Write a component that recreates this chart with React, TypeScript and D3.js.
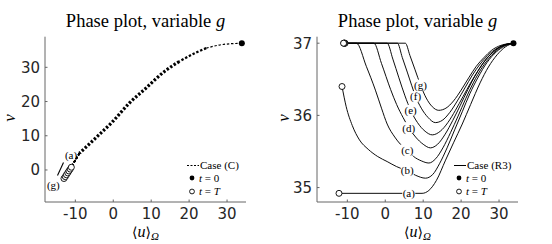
import React from 'react';
import * as d3 from 'd3';

const W = 552;
const H = 244;

const xTicks = [-10, 0, 10, 20, 30];
const leftYTicks = [0, 10, 20, 30];
const rightYTicks = [35, 36, 37];
const caseNames = ['(a)', '(b)', '(c)', '(d)', '(e)', '(f)', '(g)'];

// Left panel: Case (C) — shared trajectory from t=0 and end points at t=T
const leftSharedU = [33.9, 31, 27.9, 24.5, 21.8, 17.4, 13.5, 8.6, 4.2, -0.2, -4.6, -8.9];
const leftSharedV = [37.0, 36.9, 36.5, 35.6, 34.3, 31.7, 28.8, 23.9, 19.5, 14.1, 9.4, 4.9];
const leftEndU = [-11.05, -11.35, -11.7, -12.0, -12.35, -12.65, -13.0];
const leftEndV = [0.8, 0.25, -0.3, -0.85, -1.4, -1.95, -2.5];

// Right panel: Case (R3) trajectories (u, v), from t=T (left) to t=0 (right)
const caseA: [number, number][] = [
  [-12.2, 34.92], [9.7, 34.92], [11.5, 34.96], [13.5, 35.1], [15.9, 35.38], [18, 35.62],
  [20.3, 35.88], [22.5, 36.15], [25, 36.45], [27.2, 36.67], [29.5, 36.84], [31.7, 36.95], [33.8, 37],
];
const caseB: [number, number][] = [
  [-11.4, 36.4], [-10.3, 36.12], [-8.7, 35.86], [-6.8, 35.66], [-4.5, 35.53], [-2, 35.43],
  [0.5, 35.36], [3, 35.29], [5.8, 35.23], [8, 35.17], [10.6, 35.13], [12.5, 35.18], [14.3, 35.33],
  [16.3, 35.55], [18.3, 35.8], [20.3, 36.05], [22.3, 36.3], [24.5, 36.53], [26.8, 36.73],
  [29.3, 36.88], [31.5, 36.96], [33.8, 37],
];
const caseC: [number, number][] = [
  [-11.0, 37], [-7.6, 37], [-5, 36.68], [-2.6, 36.35], [-1, 36.1], [0.5, 35.88], [2.5, 35.7],
  [4, 35.6], [5.8, 35.52], [7.5, 35.43], [9.5, 35.37], [11.5, 35.34], [13.3, 35.4], [15.2, 35.55],
  [17.2, 35.76], [19.2, 35.99], [21.2, 36.23], [23.3, 36.46], [25.5, 36.66], [28, 36.83],
  [30.8, 36.95], [33.8, 37],
];
const caseD: [number, number][] = [
  [-10.9, 37], [-3.0, 37], [-1, 36.72], [1.4, 36.36], [3, 36.15], [4.7, 35.97], [6.2, 35.83],
  [8, 35.7], [10, 35.6], [11.9, 35.55], [13.8, 35.6], [15.8, 35.74], [17.8, 35.93], [19.8, 36.14],
  [21.8, 36.36], [23.8, 36.56], [26, 36.74], [28.5, 36.88], [31, 36.97], [33.8, 37],
];
const caseE: [number, number][] = [
  [-10.8, 37], [0.5, 37], [2, 36.78], [3.6, 36.52], [5.2, 36.27], [6.7, 36.07], [8.5, 35.9],
  [10.5, 35.78], [12.4, 35.73], [14.5, 35.78], [16.5, 35.9], [18.5, 36.07], [20.5, 36.26],
  [22.5, 36.45], [24.5, 36.62], [26.5, 36.77], [29, 36.9], [31.3, 36.97], [33.8, 37],
];
const caseF: [number, number][] = [
  [-10.7, 37], [3.2, 37], [4.5, 36.8], [5.8, 36.6], [7, 36.41], [8, 36.26], [9.5, 36.1],
  [11.3, 35.97], [13.2, 35.9], [15, 35.93], [17, 36.04], [19, 36.2], [21, 36.38], [23, 36.56],
  [25, 36.71], [27, 36.83], [29.5, 36.93], [31.6, 36.98], [33.8, 37],
];
const caseG: [number, number][] = [
  [-10.6, 37], [5.3, 37], [6.5, 36.83], [7.8, 36.64], [9.3, 36.42], [10.8, 36.24], [12.4, 36.12],
  [14.1, 36.07], [16, 36.1], [18, 36.2], [20, 36.35], [22, 36.52], [24, 36.68], [26, 36.8],
  [28, 36.9], [30.5, 36.97], [33.8, 37],
];
const rightCases = [caseA, caseB, caseC, caseD, caseE, caseF, caseG];
const rightLabelU = [6.2, 5.8, 5.8, 6.2, 6.7, 8.0, 9.3];
const rightLabelV = [34.92, 35.24, 35.52, 35.83, 36.07, 36.26, 36.42];

const SERIF = '"Liberation Serif", "DejaVu Serif", serif';
const SANS = '"DejaVu Sans", sans-serif';
const AXC = '#262626';

const plotTop = 36.7;
const plotBottom = 202;

function Axes({ x, y, yTicks, labelX }: { x: any; y: any; yTicks: number[]; labelX: number }) {
  const [x0, x1] = x.range();
  const tl = 2.5;
  return (
    <g>
      <line x1={x0} y1={plotTop} x2={x0} y2={plotBottom} stroke="#666" strokeWidth={1} />
      <line x1={x0} y1={plotBottom} x2={x1} y2={plotBottom} stroke="#666" strokeWidth={1} />
      {xTicks.map((t) => (
        <g key={'x' + t}>
          <line x1={x(t)} x2={x(t)} y1={plotBottom} y2={plotBottom - tl} stroke="#666" />
          <text x={x(t)} y={218.5} textAnchor="middle" fontFamily={SANS} fontSize={15} fill={AXC}>
            {t < 0 ? '-' + Math.abs(t) : String(t)}
          </text>
        </g>
      ))}
      {yTicks.map((t) => (
        <g key={'y' + t}>
          <line x1={x0} x2={x0 + tl} y1={y(t)} y2={y(t)} stroke="#666" />
          <text x={x0 - 5} y={y(t)} dy="0.36em" textAnchor="end" fontFamily={SANS} fontSize={15} fill={AXC}>
            {String(t)}
          </text>
        </g>
      ))}
      <text x={(x0 + x1) / 2} y={26.5} textAnchor="middle" fontFamily={SERIF} fontSize={18.5} fill="#000">
        Phase plot, variable <tspan fontStyle="italic">g</tspan>
      </text>
      <text
        transform={`translate(${labelX},${118}) rotate(-90)`}
        textAnchor="middle"
        fontFamily={SERIF}
        fontStyle="italic"
        fontSize={17}
        fill="#000"
      >
        v
      </text>
      <text x={(x0 + x1) / 2} y={237} textAnchor="middle" fontFamily={SERIF} fontSize={16} fill="#000">
        <tspan fontFamily='"DejaVu Serif", serif' fontSize={14}>⟨</tspan>
        <tspan fontStyle="italic">u</tspan>
        <tspan fontFamily='"DejaVu Serif", serif' fontSize={14}>⟩</tspan>
        <tspan fontSize={11} dy={3} fontStyle="italic">Ω</tspan>
      </text>
    </g>
  );
}

function Legend({ x0, caseText, dashed }: { x0: number; caseText: string; dashed: boolean }) {
  return (
    <g fontFamily={SERIF} fontSize={11} fill="#000">
      <line
        x1={x0}
        x2={x0 + 12}
        y1={165.5}
        y2={165.5}
        stroke="#000"
        strokeWidth={1}
        strokeDasharray={dashed ? '2,1.5' : undefined}
      />
      <text x={x0 + 13} y={165.5} dy="0.35em">{caseText}</text>
      <circle cx={x0 + 5} cy={178} r={2.4} fill="#000" />
      <text x={x0 + 12} y={178} dy="0.35em">
        <tspan fontStyle="italic">t</tspan> = 0
      </text>
      <circle cx={x0 + 5} cy={191.5} r={2.4} fill="#fff" stroke="#000" strokeWidth={0.9} />
      <text x={x0 + 12} y={191.5} dy="0.35em">
        <tspan fontStyle="italic">t</tspan> = <tspan fontStyle="italic">T</tspan>
      </text>
    </g>
  );
}

export default function App() {
  const xL = d3.scaleLinear().domain([-18, 35]).range([45, 246]);
  const yL = d3.scaleLinear().domain([-9.36, 38.95]).range([plotBottom, plotTop]);
  const xR = d3.scaleLinear().domain([-18, 35]).range([317, 518]);
  const yR = d3.scaleLinear().domain([34.8, 37.09]).range([plotBottom, plotTop]);

  const leftPts: [number, number][] = leftSharedU.map((u, i) => [u, leftSharedV[i]]);
  const lineL = d3
    .line<[number, number]>()
    .x((d) => xL(d[0]))
    .y((d) => yL(d[1]))
    .curve(d3.curveMonotoneX);
  const lineLs = d3
    .line<[number, number]>()
    .x((d) => xL(d[0]))
    .y((d) => yL(d[1]));
  const lineR = d3
    .line<[number, number]>()
    .x((d) => xR(d[0]))
    .y((d) => yR(d[1]))
    .curve(d3.curveMonotoneX);

  const lastShared = leftPts[leftPts.length - 1];

  return (
    <svg
      width={W}
      height={H}
      viewBox={`0 0 ${W} ${H}`}
      style={{ position: 'absolute', left: 0, top: 0, background: '#fff' }}
    >
      <rect width={W} height={H} fill="#fff" />
      {/* LEFT PANEL */}
      <Axes x={xL} y={yL} yTicks={leftYTicks} labelX={15} />
      <path d={lineL(leftPts.slice(0, 4)) || ''} fill="none" stroke="#000" strokeWidth={1.2} strokeDasharray="2.4,1.8" />
      <path d={lineL(leftPts.slice(3, 6)) || ''} fill="none" stroke="#000" strokeWidth={2.3} strokeDasharray="2.4,1.8" />
      <path d={lineL(leftPts.slice(5)) || ''} fill="none" stroke="#000" strokeWidth={3.2} strokeDasharray="2.4,1.8" />
      {leftEndU.map((u, i) => (
        <path
          key={'ls' + i}
          d={lineLs([lastShared, [u, leftEndV[i]]]) || ''}
          fill="none"
          stroke="#000"
          strokeWidth={1.5}
          strokeDasharray="2.4,1.8"
        />
      ))}
      {leftEndU
        .map((u, i) => ({ u, v: leftEndV[i], i }))
        .reverse()
        .map((d) => (
          <circle key={'lc' + d.i} cx={xL(d.u)} cy={yL(d.v)} r={3} fill="#fff" stroke="#000" strokeWidth={0.9} />
        ))}
      <circle cx={xL(leftSharedU[0])} cy={yL(leftSharedV[0])} r={3} fill="#000" />
      <line x1={57.5} y1={175.5} x2={63.5} y2={162.5} stroke="#000" strokeWidth={1.1} />
      <text x={71} y={155.5} dy="0.35em" textAnchor="middle" fontFamily={SERIF} fontSize={11}>{caseNames[0]}</text>
      <text x={53.3} y={185} dy="0.35em" textAnchor="middle" fontFamily={SERIF} fontSize={11}>{caseNames[6]}</text>
      <Legend x0={187} caseText="Case (C)" dashed={true} />

      {/* RIGHT PANEL */}
      <Axes x={xR} y={yR} yTicks={rightYTicks} labelX={289} />
      {rightCases.map((c, i) => (
        <path key={'rc' + i} d={lineR(c) || ''} fill="none" stroke="#000" strokeWidth={0.95} />
      ))}
      {rightLabelU.map((u, i) => (
        <g key={'rl' + i}>
          <rect x={xR(u) - 6.5} y={yR(rightLabelV[i]) - 5.5} width={13} height={11} fill="#fff" />
          <text
            x={xR(u)}
            y={yR(rightLabelV[i])}
            dy="0.35em"
            textAnchor="middle"
            fontFamily={SERIF}
            fontSize={11}
          >
            {caseNames[i]}
          </text>
        </g>
      ))}
      {rightCases
        .map((c, i) => ({ p: c[0], i }))
        .reverse()
        .map((d) => (
          <circle key={'rs' + d.i} cx={xR(d.p[0])} cy={yR(d.p[1])} r={3} fill="#fff" stroke="#000" strokeWidth={0.9} />
        ))}
      <circle cx={xR(caseA[caseA.length - 1][0])} cy={yR(caseA[caseA.length - 1][1])} r={3} fill="#000" />
      <Legend x0={454} caseText="Case (R3)" dashed={false} />
    </svg>
  );
}
